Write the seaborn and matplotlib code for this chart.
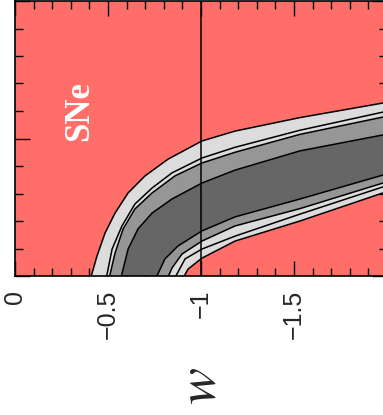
import numpy as np
import matplotlib
matplotlib.use("Agg")
import matplotlib.pyplot as plt
from matplotlib.ticker import MultipleLocator
import seaborn as sns

# confidence band boundaries (w, Omega_m)
upper_outer_w = [-0.41, -0.441, -0.484, -0.538, -0.608, -0.699, -0.823, -1.005, -1.183, -1.532, -1.978, -2.0]
upper_outer_om = [0.0, 0.073, 0.156, 0.229, 0.302, 0.364, 0.425, 0.491, 0.527, 0.576, 0.629, 0.631]
upper_line_w = [-0.493, -0.522, -0.575, -0.645, -0.737, -0.844, -1.005, -1.183, -1.532, -1.978, -2.0]
upper_line_om = [0.0, 0.098, 0.182, 0.262, 0.32, 0.375, 0.429, 0.468, 0.53, 0.596, 0.598]
upper_mid_w = [-0.509, -0.538, -0.581, -0.645, -0.737, -0.86, -1.005, -1.183, -1.532, -1.978, -2.0]
upper_mid_om = [0.0, 0.084, 0.171, 0.244, 0.302, 0.364, 0.411, 0.45, 0.515, 0.578, 0.58]
upper_inner_w = [-0.572, -0.608, -0.661, -0.737, -0.844, -1.005, -1.183, -1.532, -1.978, -2.0]
upper_inner_om = [0.0, 0.098, 0.171, 0.229, 0.28, 0.338, 0.385, 0.455, 0.513, 0.515]

lower_inner_w = [-0.763, -0.806, -0.876, -1.005, -1.183, -1.532, -1.978, -2.0]
lower_inner_om = [0.0, 0.062, 0.109, 0.164, 0.215, 0.28, 0.367, 0.37]
lower_mid_w = [-0.825, -0.845, -0.898, -1.005, -1.183, -1.532, -1.978, -2.0]
lower_mid_om = [0.0, 0.03, 0.08, 0.127, 0.182, 0.245, 0.338, 0.341]
lower_line_w = [-0.865, -0.914, -1.005, -1.183, -1.532, -1.978, -2.0]
lower_line_om = [0.0, 0.062, 0.098, 0.145, 0.225, 0.324, 0.327]
lower_outer_w = [-0.91, -0.93, -1.005, -1.183, -1.532, -1.978, -2.0]
lower_outer_om = [0.0, 0.025, 0.065, 0.127, 0.2, 0.302, 0.305]

xticks = [0, -0.5, -1, -1.5]
xtick_labels = ["0", "\u22120.5", "\u22121", "\u22121.5"]

sns.set_style("ticks")
plt.rcParams["font.family"] = ["Liberation Sans", "DejaVu Sans"]
plt.rcParams["mathtext.fontset"] = "stix"

fig = plt.figure(figsize=(3.83, 4.15), dpi=100)
ax = fig.add_axes([15 / 383, 139 / 415, 372 / 383, 275 / 415])
ax.set_facecolor("#ff6e68")


def band(uw, uo, lw, lo, color):
    xs = list(uw) + list(lw[::-1])
    ys = list(uo) + list(lo[::-1])
    ax.fill(xs, ys, color=color, lw=0, zorder=1)


band(upper_outer_w, upper_outer_om, lower_outer_w, lower_outer_om, "#dcdcdc")
band(upper_mid_w, upper_mid_om, lower_mid_w, lower_mid_om, "#969696")
band(upper_inner_w, upper_inner_om, lower_inner_w, lower_inner_om, "#666666")

for bw, bo in [(upper_outer_w, upper_outer_om), (upper_line_w, upper_line_om),
               (upper_mid_w, upper_mid_om), (upper_inner_w, upper_inner_om),
               (lower_inner_w, lower_inner_om), (lower_mid_w, lower_mid_om),
               (lower_line_w, lower_line_om), (lower_outer_w, lower_outer_om)]:
    sns.lineplot(x=bw, y=bo, sort=False, estimator=None, color="black", lw=1.1, ax=ax, zorder=2)

ax.axvline(-1, color="black", lw=1.1, zorder=3)

ax.text(-0.35, 0.6, "SNe", rotation=90, color="white", fontsize=25, fontweight="bold",
        family=["Liberation Serif", "DejaVu Serif"], ha="center", va="center")

ax.set_xlim(0, -2)
ax.set_ylim(0, 1)
ax.set_xticks(xticks)
ax.set_xticklabels(xtick_labels, rotation=90, fontsize=18)
ax.xaxis.set_minor_locator(MultipleLocator(0.1))
ax.set_yticks([0, 0.5, 1])
ax.yaxis.set_minor_locator(MultipleLocator(0.1))
ax.tick_params(axis="y", which="both", labelleft=False)
ax.tick_params(which="both", direction="in", top=True, right=True, width=1.0, color="black")
ax.tick_params(which="major", length=11)
ax.tick_params(which="minor", length=6)
ax.tick_params(axis="x", which="major", pad=10)
for s in ax.spines.values():
    s.set_linewidth(1.2)
    s.set_color("black")

ax.set_xlabel("$w$", fontsize=40, rotation=90, labelpad=20)

fig.savefig("out.png", dpi=100)
